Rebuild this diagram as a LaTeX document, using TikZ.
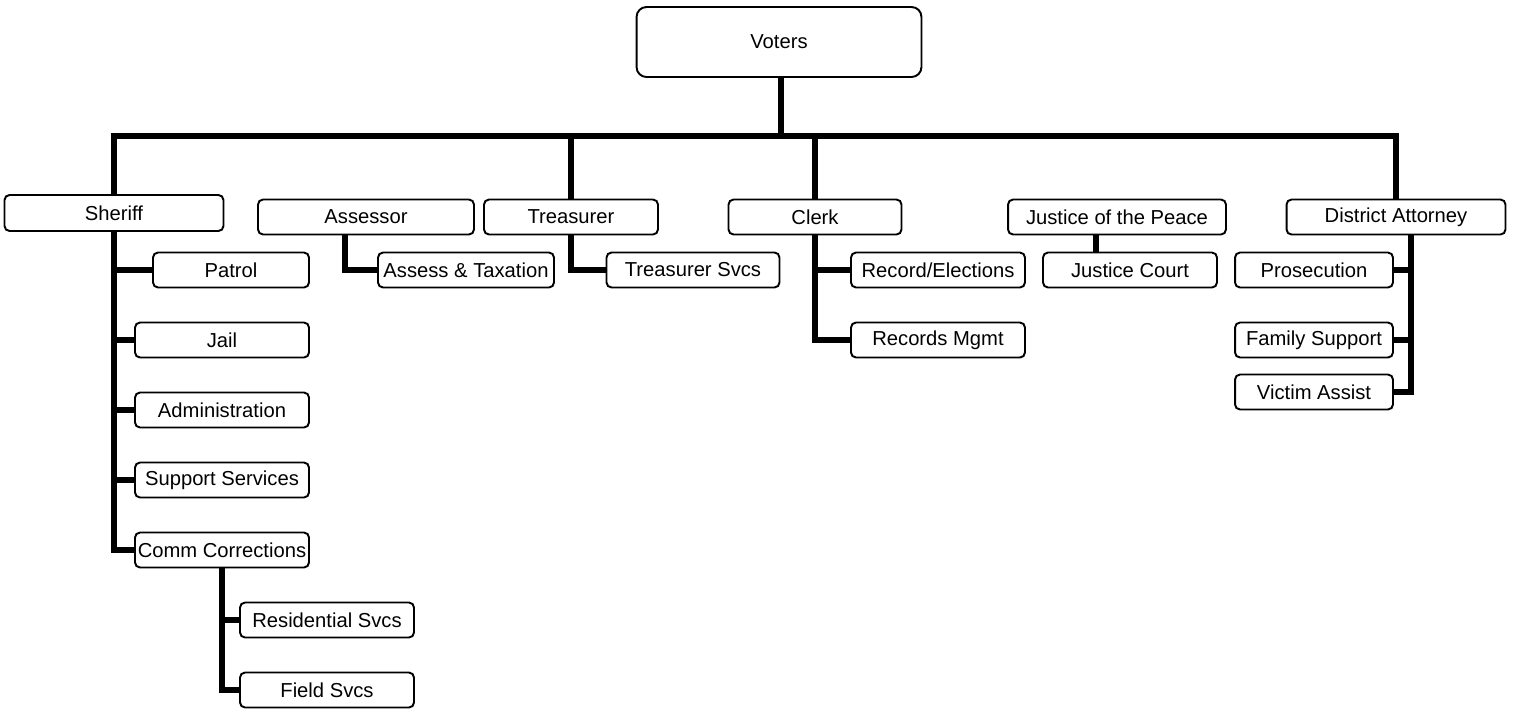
\documentclass[tikz,border=0pt]{standalone}
\usepackage{fontspec}
\setmainfont{Liberation Sans}
\usetikzlibrary{calc}
\tikzset{unit/.style={draw, line width=1.1pt, rounded corners=0.1cm, fill=white,
    minimum width=3.48cm, minimum height=0.7cm, inner xsep=1pt,
    font=\fontsize{11.5}{13}\selectfont},
  link/.style={line width=3.4pt}}

\begin{document}
\begin{tikzpicture}[x=0.02cm, y=-0.02cm]
\useasboundingbox (0,0) rectangle (1517,708);
% top
\node[unit, minimum width=5.7cm, minimum height=1.4cm, rounded corners=0.2cm] (voters) at (779,42) {Voters};
\coordinate (bus) at (781,136);
% offices
\node[unit, minimum width=4.38cm, minimum height=0.72cm] (sheriff) at (114,213) {Sheriff};
\node[unit, minimum width=4.32cm] (assessor) at (366,217) {Assessor};
\node[unit] (treasurer) at (571,217) {Treasurer};
\node[unit, minimum width=3.46cm] (clerk) at (815,217) {Clerk};
\node[unit, minimum width=4.36cm] (justice) at (1117,217) {Justice of the Peace};
\node[unit, minimum width=4.38cm] (da) at (1396,217) {District Attorney};
% sheriff
\node[unit, minimum width=3.12cm] (patrol) at (231,270) {Patrol};
\node[unit] (jail) at (222,340) {Jail};
\node[unit] (admin) at (222,410) {Administration};
\node[unit] (support) at (222,480) {Support Services};
\node[unit] (comm) at (222,550) {Comm Corrections};
\node[unit] (resid) at (327,620) {Residential Svcs};
\node[unit] (field) at (327,690) {Field Svcs};
% others
\node[unit, minimum width=3.52cm] (assesstax) at (466,270) {Assess \& Taxation};
\node[unit, minimum width=3.46cm] (treassvcs) at (693,270) {Treasurer Svcs};
\node[unit] (recelect) at (938,270) {Record/Elections};
\node[unit] (recmgmt) at (938,340) {Records Mgmt};
\node[unit] (jcourt) at (1130,270) {Justice Court};
\node[unit, minimum width=3.16cm] (prosec) at (1314,270) {Prosecution};
\node[unit, minimum width=3.16cm] (family) at (1314,340) {Family Support};
\node[unit, minimum width=3.16cm] (victim) at (1314,392) {Victim Assist};
\coordinate (asdrop) at ($(assessor.south)+(-21,0)$);
\coordinate (jpdrop) at ($(justice.south)+(-21,0)$);
\coordinate (dadrop) at ($(da.south)+(15,0)$);

\draw[link] (voters.south -| bus) -- (bus);
\draw[link] (sheriff.north) -- (sheriff.north |- bus) -- (da.north |- bus) -- (da.north);
\draw[link] ($(assessor.north)+(-21,0)$) -- ($(assessor.north)+(-21,0)$ |- bus);
\draw[link] (treasurer.north) -- (treasurer.north |- bus);
\draw[link] (clerk.north) -- (clerk.north |- bus);
\draw[link] ($(justice.north)+(-21,0)$) -- ($(justice.north)+(-21,0)$ |- bus);

\draw[link] (sheriff.south) |- (patrol.west);
\draw[link] (sheriff.south) |- (jail.west);
\draw[link] (sheriff.south) |- (admin.west);
\draw[link] (sheriff.south) |- (support.west);
\draw[link] (sheriff.south) |- (comm.west);
\draw[link] (comm.south) |- (resid.west);
\draw[link] (comm.south) |- (field.west);
\draw[link] (asdrop) |- (assesstax.west);
\draw[link] (treasurer.south) |- (treassvcs.west);
\draw[link] (clerk.south) |- (recelect.west);
\draw[link] (clerk.south) |- (recmgmt.west);
\draw[link] (jpdrop) -- (jpdrop |- jcourt.north);
\draw[link] (dadrop) |- (prosec.east);
\draw[link] (dadrop) |- (family.east);
\draw[link] (dadrop) |- (victim.east);
\end{tikzpicture}
\end{document}
